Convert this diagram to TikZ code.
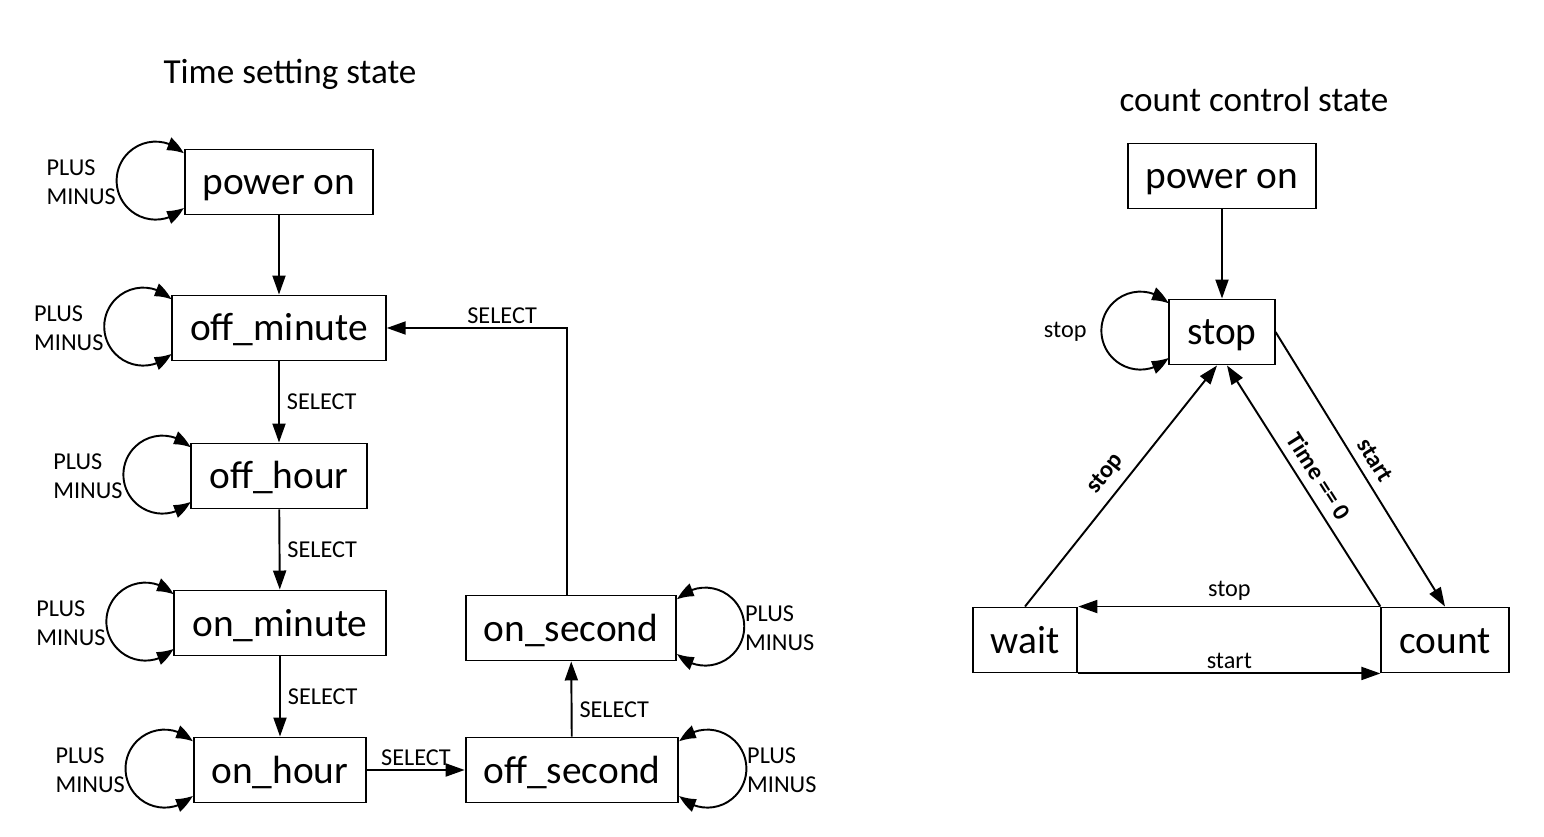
\documentclass[tikz,border=0pt]{standalone}
\usepackage{fontspec}
\setmainfont{Carlito}
\usepackage{xcolor}
\usetikzlibrary{arrows.meta,bending,positioning}
\definecolor{fsmink}{HTML}{000000}
\tikzset{
  statebox/.style={rectangle,draw=fsmink,line width=1.1pt,minimum height=1.3cm,
                   inner xsep=0.36cm,text height=18pt,text depth=3.2pt,
                   font=\fontsize{22.4}{27}\selectfont,text=fsmink},
  trans/.style={-{Triangle[length=3.8mm,width=2.6mm]},line width=1.1pt,draw=fsmink},
  loopy/.style={{Triangle[length=3.6mm,width=2.6mm,bend]}-{Triangle[length=3.6mm,width=2.6mm,bend]},
                line width=1.1pt,draw=fsmink},
  lbl/.style={font=\fontsize{13.8}{16.5}\selectfont,text=fsmink,inner sep=2pt},
  blbl/.style={lbl,font=\fontsize{13.8}{16.5}\selectfont\bfseries,inner sep=5pt},
  looplbl/.style={lbl,align=left},
  heading/.style={font=\fontsize{20}{24}\selectfont,text=fsmink},
}
% self loops, left or right of a box
\newcommand{\loopW}[3][12.8mm]{%
  \draw[loopy] ([yshift=-1mm]#2.north west) arc[start angle=44,end angle=316,radius=7.8mm];
  \node[looplbl,anchor=east] (#2l) at ([xshift=-#1]#2.west) {#3};}
\newcommand{\loopE}[2]{%
  \draw[loopy] ([yshift=-1mm]#1.north east) arc[start angle=136,end angle=-136,radius=7.8mm];
  \node[looplbl,anchor=west] (#1l) at ([xshift=12.8mm]#1.east) {#2};}

\begin{document}
\begin{tikzpicture}
\useasboundingbox (0,0) rectangle (30.88,16.74);
% time setting
\node[heading] (tsttl) at (5.80,15.26) {Time setting state};
\node[statebox] (pon)    at (5.58,13.10) {power on};
\node[statebox] (offmin) at (5.58,10.18) {off\_minute};
\node[statebox] (offhr)  at (5.58,7.22)  {off\_hour};
\node[statebox] (onmin)  at (5.60,4.28)  {on\_minute};
\node[statebox] (onhr)   at (5.60,1.34)  {on\_hour};
\node[statebox] (offsec) at (11.44,1.34) {off\_second};
\node[statebox] (onsec)  at (11.42,4.18) {on\_second};
\draw[trans] (pon) -- (offmin);
\draw[trans] (offmin) -- (offhr) node[midway,right,lbl,xshift=2pt] {SELECT};
\draw[trans] (offhr) -- (onmin) node[midway,right,lbl,xshift=2pt] {SELECT};
\draw[trans] (onmin) -- (onhr) node[midway,right,lbl,xshift=2pt] {SELECT};
\draw[trans] (onhr) -- (offsec) node[midway,above,lbl] {SELECT};
\draw[trans] (offsec) -- (onsec) node[midway,right,lbl,xshift=2pt,yshift=-6pt] {SELECT};
\draw[trans] ([xshift=-0.8mm]onsec.north) |- (offmin.east) node[pos=0.68,above,lbl] {SELECT};
\loopW{pon}{PLUS\\MINUS}
\loopW{offmin}{PLUS\\MINUS}
\loopW{offhr}{PLUS\\MINUS}
\loopW{onmin}{PLUS\\MINUS}
\loopW{onhr}{PLUS\\MINUS}
\loopE{onsec}{PLUS\\MINUS}
\loopE{offsec}{PLUS\\MINUS}
% count control
\node[heading] (ccttl) at (25.08,14.76) {count control state};
\node[statebox] (rpon)  at (24.44,13.22) {power on};
\node[statebox] (stop)  at (24.44,10.10) {stop};
\node[statebox] (wait)  at (20.50,3.94)  {wait};
\node[statebox] (count) at (28.90,3.94)  {count};
\draw[trans] (rpon) -- (stop);
\loopW[15.6mm]{stop}{stop}
\draw[trans] (wait.north) -- ([xshift=-1mm]stop.south)
  node[midway,sloped,above,blbl] {stop};
\draw[trans] (count.north west) -- ([xshift=1mm]stop.south)
  node[midway,sloped,above,blbl] {Time == 0};
\draw[trans] (stop.east) -- (count.north)
  node[midway,sloped,above,blbl] {start};
\draw[trans] (count.north west) -- (wait.north east) node[midway,above,lbl,yshift=1pt] {stop};
\draw[trans] (wait.south east) -- (count.south west) node[midway,above,lbl] {start};
\end{tikzpicture}
\end{document}
